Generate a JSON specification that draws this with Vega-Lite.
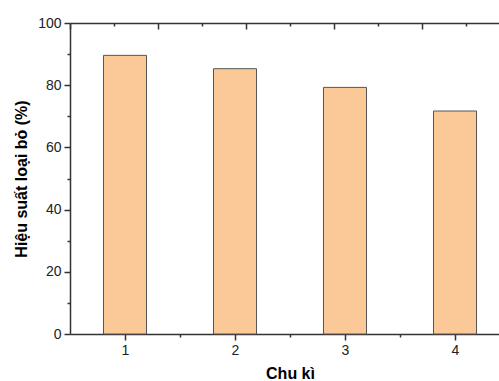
{
  "$schema": "https://vega.github.io/schema/vega-lite/v6.json",
  "width": 429,
  "height": 311,
  "autosize": {"type": "none"},
  "padding": {"left": 70, "top": 23, "right": 0, "bottom": 47},
  "background": "white",
  "config": {
    "view": {"stroke": null},
    "axis": {
      "labelFont": "Liberation Sans",
      "titleFont": "Liberation Sans",
      "domainColor": "#333333",
      "tickColor": "#333333",
      "labelColor": "#222222",
      "titleColor": "#000000",
      "grid": false,
      "domainWidth": 1.5,
      "tickWidth": 1.5
    }
  },
  "data": {
    "values": [
      {"cycle": 1, "efficiency": 89.6},
      {"cycle": 2, "efficiency": 85.3},
      {"cycle": 3, "efficiency": 79.3},
      {"cycle": 4, "efficiency": 71.7}
    ]
  },
  "layer": [
    {
      "mark": {"type": "bar", "size": 43, "fill": "#FBC998", "stroke": "#555555", "strokeWidth": 1},
      "encoding": {
        "x": {
          "field": "cycle",
          "type": "quantitative",
          "scale": {"domain": [0.5, 4.4], "nice": false, "zero": false, "padding": 0},
          "axis": {
            "orient": "bottom",
            "values": [1, 2, 3, 4],
            "tickSize": 6,
            "labelFontSize": 14,
            "labelPadding": 3,
            "labelFlush": false,
            "title": "Chu kì",
            "titleFontSize": 16,
            "titleFontWeight": "bold",
            "titleX": 220,
            "titlePadding": 8
          }
        },
        "y": {
          "field": "efficiency",
          "type": "quantitative",
          "scale": {"domain": [0, 100], "nice": false, "padding": 0},
          "axis": {
            "orient": "left",
            "values": [0, 20, 40, 60, 80, 100],
            "tickSize": 6,
            "labelFontSize": 14,
            "labelPadding": 3,
            "title": "Hiệu suất loại bỏ (%)",
            "titleFontSize": 16,
            "titleFontWeight": "bold",
            "titlePadding": 8
          }
        }
      }
    },
    {
      "mark": {"type": "point", "opacity": 0},
      "encoding": {
        "x": {
          "field": "cycle",
          "type": "quantitative",
          "axis": {"orient": "bottom", "values": [1.5, 2.5, 3.5], "tickSize": 3, "labels": false, "domain": false, "title": null}
        }
      }
    },
    {
      "mark": {"type": "point", "opacity": 0},
      "encoding": {
        "x": {
          "field": "cycle",
          "type": "quantitative",
          "axis": {"orient": "top", "ticks": false, "labels": false, "domain": true, "title": null}
        }
      }
    },
    {
      "mark": {"type": "point", "opacity": 0},
      "encoding": {
        "x": {
          "field": "cycle",
          "type": "quantitative",
          "axis": {"orient": "top", "offset": -6, "values": [0.5, 1.3, 2.1, 2.9, 3.7], "tickSize": 6, "labels": false, "domain": false, "title": null}
        }
      }
    },
    {
      "mark": {"type": "point", "opacity": 0},
      "encoding": {
        "x": {
          "field": "cycle",
          "type": "quantitative",
          "axis": {"orient": "top", "offset": -3, "values": [0.9, 1.7, 2.5, 3.3, 4.1], "tickSize": 3, "labels": false, "domain": false, "title": null}
        }
      }
    },
    {
      "mark": {"type": "point", "opacity": 0},
      "encoding": {
        "y": {
          "field": "efficiency",
          "type": "quantitative",
          "axis": {"orient": "left", "values": [10, 30, 50, 70, 90], "tickSize": 3, "labels": false, "domain": false, "title": null}
        }
      }
    }
  ],
  "resolve": {"axis": {"x": "independent", "y": "independent"}}
}
